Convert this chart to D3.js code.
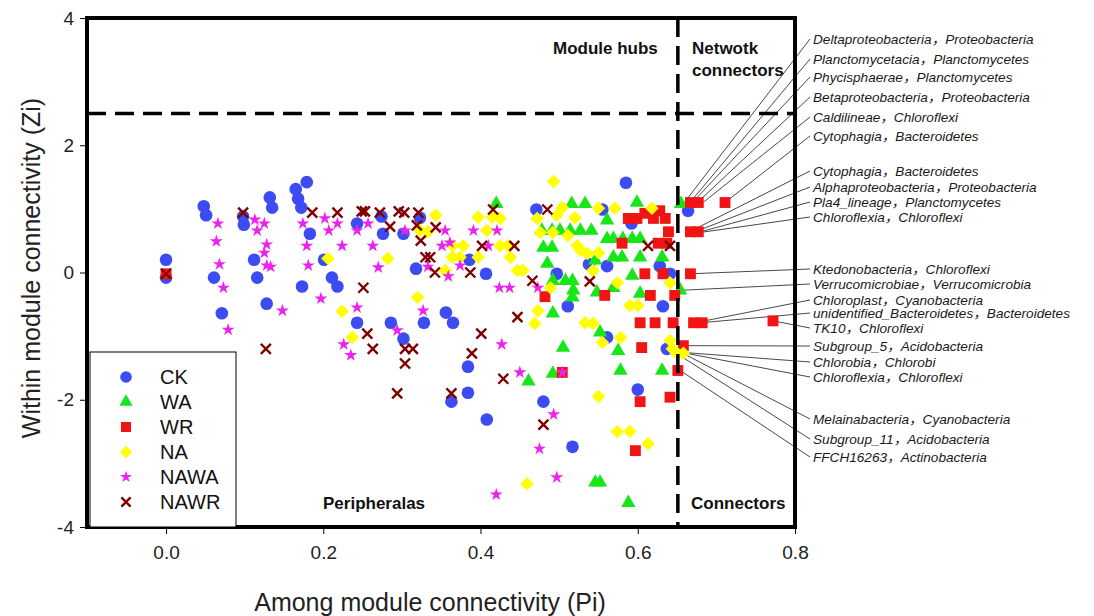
<!DOCTYPE html>
<html>
<head>
<meta charset="utf-8">
<script src="https://cdn.jsdelivr.net/npm/d3@7"></script>
<style>
body { margin: 0; background: #fff; }
text { font-family: "Liberation Sans", Arial, "Noto Sans CJK SC", sans-serif; }
</style>
</head>
<body>
<div id="chart"></div>
<script>
// values, [Pi, Zi]
var groups = ['CK', 'WA', 'WR', 'NA', 'NAWA', 'NAWR'];

var ck = [[0,0.2],[0,-0.08],[0.048,1.04],[0.051,0.9],[0.061,-0.08],[0.071,-0.64],[0.098,0.88],[0.099,0.75],
  [0.112,0.2],[0.116,-0.08],[0.132,1.18],[0.135,1.02],[0.128,-0.49],[0.179,1.42],[0.165,1.31],[0.168,1.16],
  [0.172,1.02],[0.183,0.61],[0.173,-0.22],[0.211,-0.08],[0.218,-0.22],[0.201,0.2],[0.243,0.77],[0.274,0.88],
  [0.276,0.61],[0.302,0.61],[0.318,0.06],[0.243,-0.79],[0.286,-0.79],[0.328,-0.79],[0.302,-1.04],[0.323,0.86],
  [0.384,-1.48],[0.384,-1.89],[0.363,-2.03],[0.408,-2.31],[0.48,-2.03],[0.517,-2.74],[0.6,-1.84],[0.471,0.99],
  [0.386,0.2],[0.407,-0.02],[0.356,-0.63],[0.365,-0.79],[0.497,-0.02],[0.511,-0.53],[0.538,0.13],[0.585,1.41],
  [0.555,0.99],[0.592,0.77],[0.561,0.1],[0.628,0.1],[0.641,-0.02],[0.632,-0.53],[0.561,-1.02],[0.637,-1.2],
  [0.664,0.97]];

var wa = [[0.42,1.08],[0.516,1.08],[0.533,1.08],[0.599,1.1],[0.655,1.08],[0.478,0.66],[0.491,0.66],[0.501,0.66],
  [0.514,0.66],[0.527,0.66],[0.541,0.66],[0.48,0.39],[0.491,0.39],[0.561,0.82],[0.561,0.53],[0.569,0.53],
  [0.581,0.53],[0.593,0.53],[0.603,0.53],[0.485,0.14],[0.546,0.19],[0.569,0.24],[0.58,0.24],[0.603,0.24],
  [0.631,0.24],[0.492,-0.13],[0.508,-0.13],[0.517,-0.13],[0.593,-0.05],[0.518,-0.28],[0.548,-0.31],[0.569,-0.24],
  [0.603,-0.33],[0.654,-0.28],[0.517,-0.39],[0.492,-0.64],[0.552,-0.94],[0.505,-1.18],[0.575,-1.23],[0.492,-1.59],
  [0.461,-1.71],[0.578,-1.54],[0.631,-1.54],[0.546,-3.3],[0.552,-3.3],[0.588,-3.62]];

var wr = [[0,-0.02],[0.482,-0.38],[0.504,-1.57],[0.588,0.85],[0.599,0.85],[0.609,0.93],[0.62,0.85],[0.628,0.97],
  [0.635,0.85],[0.639,0.64],[0.58,0.46],[0.626,0.46],[0.637,0.46],[0.667,1.1],[0.677,1.1],[0.711,1.1],
  [0.667,0.64],[0.677,0.64],[0.609,-0.02],[0.632,-0.02],[0.667,-0.02],[0.558,-0.36],[0.616,-0.36],[0.647,-0.36],
  [0.603,-0.79],[0.622,-0.79],[0.645,-0.79],[0.671,-0.79],[0.682,-0.79],[0.772,-0.76],[0.605,-1.18],[0.658,-1.15],
  [0.651,-1.54],[0.641,-1.96],[0.603,-2.03],[0.597,-2.8]];

var na = [[0.206,0.22],[0.282,0.22],[0.32,-0.39],[0.224,-0.61],[0.237,-1.02],[0.323,0.66],[0.333,0.64],[0.493,1.43],
  [0.343,0.9],[0.397,0.87],[0.408,0.66],[0.415,0.87],[0.425,0.85],[0.425,0.42],[0.435,0.42],[0.378,0.42],
  [0.365,0.42],[0.364,0.24],[0.374,0.24],[0.397,0.24],[0.438,0.24],[0.447,0.03],[0.454,0.03],[0.355,0.03],
  [0.472,0.85],[0.497,0.9],[0.492,0.63],[0.511,0.58],[0.476,0.63],[0.523,0.42],[0.527,0.35],[0.536,0.3],
  [0.489,-0.24],[0.473,-0.6],[0.469,-0.8],[0.533,-0.79],[0.543,-0.8],[0.504,1.02],[0.52,0.86],[0.55,1.01],
  [0.571,1.01],[0.618,1.01],[0.55,0.31],[0.543,0.03],[0.574,-0.16],[0.59,-0.52],[0.6,-0.52],[0.641,-0.16],
  [0.555,-1.1],[0.578,-1.02],[0.641,-1.07],[0.65,-1.27],[0.658,-1.27],[0.55,-1.95],[0.574,-2.5],[0.59,-2.5],
  [0.613,-2.69],[0.644,-1.2],[0.459,-3.32]];

var nawa = [[0.066,0.77],[0.064,0.49],[0.068,0.13],[0.073,-0.24],[0.079,-0.9],[0.113,0.83],[0.116,0.66],[0.125,0.77],
  [0.128,0.44],[0.125,0.31],[0.128,0.11],[0.133,0.09],[0.148,-0.6],[0.174,0.77],[0.179,0.42],[0.181,0.11],
  [0.202,0.85],[0.207,0.66],[0.218,0.77],[0.224,0.42],[0.197,-0.41],[0.243,0.66],[0.257,0.77],[0.263,0.42],
  [0.27,0.08],[0.243,-0.55],[0.226,-1.13],[0.235,-1.3],[0.294,-0.91],[0.304,0.66],[0.327,-0.6],[0.355,0.66],
  [0.351,0.42],[0.361,0.47],[0.391,0.66],[0.421,0.66],[0.41,0.42],[0.333,0.09],[0.359,-0.06],[0.374,0.11],
  [0.424,-0.24],[0.437,-0.24],[0.473,-0.24],[0.427,-1.13],[0.45,-1.57],[0.493,-2.23],[0.475,-2.77],[0.497,-3.22],
  [0.42,-3.49],[0.504,-1.57]];

var nawr = [[0,-0.02],[0.098,0.94],[0.186,0.94],[0.218,0.94],[0.249,0.96],[0.253,0.96],[0.272,0.94],[0.296,0.96],
  [0.303,0.94],[0.321,0.94],[0.285,0.72],[0.319,0.74],[0.324,0.5],[0.33,0.24],[0.336,0.24],[0.251,-0.24],
  [0.256,-0.96],[0.263,-1.2],[0.304,-1.2],[0.314,-1.2],[0.127,-1.2],[0.343,0.71],[0.342,0],[0.387,0],
  [0.402,0.42],[0.416,0.99],[0.443,0.42],[0.485,0.99],[0.466,-0.13],[0.447,-0.7],[0.401,-0.96],[0.389,-1.27],
  [0.613,0.42],[0.641,0.42],[0.539,-0.14],[0.304,-1.43],[0.294,-1.9],[0.363,-1.9],[0.429,-1.67],[0.48,-2.39]];

var xTicks = [0, 0.2, 0.4, 0.6, 0.8];
var yTicks = [-4, -2, 0, 2, 4];
var piCut = 0.651, ziCut = 2.5;

// annotated nodes: name and the node [Pi, Zi] the leader line points at
var taxa = ['Deltaproteobacteria，Proteobacteria', 'Planctomycetacia，Planctomycetes', 'Phycisphaerae，Planctomycetes',
  'Betaproteobacteria，Proteobacteria', 'Caldilineae，Chloroflexi', 'Cytophagia，Bacteroidetes',
  'Cytophagia，Bacteroidetes', 'Alphaproteobacteria，Proteobacteria', 'Pla4_lineage，Planctomycetes',
  'Chloroflexia，Chloroflexi', 'Ktedonobacteria，Chloroflexi', 'Verrucomicrobiae，Verrucomicrobia',
  'Chloroplast，Cyanobacteria', 'unidentified_Bacteroidetes，Bacteroidetes', 'TK10，Chloroflexi',
  'Subgroup_5，Acidobacteria', 'Chlorobia，Chlorobi', 'Chloroflexia，Chloroflexi',
  'Melainabacteria，Cyanobacteria', 'Subgroup_11，Acidobacteria', 'FFCH16263，Actinobacteria'];
var taxaNode = [[0.658,1.08],[0.663,1.05],[0.668,1.08],[0.674,1.08],[0.681,1.08],[0.711,1.1],
  [0.669,0.66],[0.673,0.64],[0.677,0.63],[0.68,0.63],[0.667,-0.02],[0.654,-0.28],
  [0.673,-0.79],[0.68,-0.79],[0.772,-0.76],[0.658,-1.15],[0.662,-1.26],[0.662,-1.27],
  [0.662,-1.3],[0.658,-1.34],[0.654,-1.54]];
// label rows (px)
var labelY = [39, 59, 77, 97, 117, 136, 171, 187, 202, 217, 269, 284, 300, 313, 328, 346, 362, 377, 419, 439, 457];

function draw() {
  var width = 1094, height = 616;
  var pLeft = 87, pRight = 795, pTop = 18, pBottom = 527;

  var svg = d3.select('#chart').append('svg')
    .attr('width', width)
    .attr('height', height);

  var x = d3.scaleLinear().domain([-0.1, 0.8]).range([pLeft + 0.4, pRight]);
  var y = d3.scaleLinear().domain([-4, 4]).range([pBottom, pTop]);

  var colors = d3.scaleOrdinal()
    .domain(groups)
    .range(['#3c4cf2', '#19e619', '#f01414', '#ffff00', '#ee22ee', '#800000']);

  var crossPath = function(r) {
    return 'M' + -r + ',' + -r + 'L' + r + ',' + r + 'M' + r + ',' + -r + 'L' + -r + ',' + r;
  };

  function marker(sel, g, scale) {
    var p;
    if (g === 'CK') p = d3.symbol(d3.symbolCircle, 125 * scale)();
    else if (g === 'WA') p = d3.symbol(d3.symbolTriangle, 90 * scale)();
    else if (g === 'WR') p = d3.symbol(d3.symbolSquare, 118 * scale)();
    else if (g === 'NA') p = d3.symbol(d3.symbolSquare, 92 * scale)();
    else if (g === 'NAWA') p = d3.symbol(d3.symbolStar, 52 * scale)();
    else p = crossPath(5 * Math.sqrt(scale));
    sel.attr('d', p);
    if (g === 'NAWR') {
      sel.attr('fill', 'none').attr('stroke', colors(g)).attr('stroke-width', 2.4);
    } else {
      sel.attr('fill', colors(g)).attr('stroke', 'none');
    }
    return sel;
  }

  var series = [ck, wa, wr, na, nawa, nawr];

  // leader lines
  svg.append('g').selectAll('line').data(taxa)
    .enter().append('line')
    .attr('x1', function(d, i) { return x(taxaNode[i][0]); })
    .attr('y1', function(d, i) { return y(taxaNode[i][1]); })
    .attr('x2', 810)
    .attr('y2', function(d, i) { return labelY[i]; })
    .attr('stroke', '#333')
    .attr('stroke-width', 0.9);

  // points
  series.forEach(function(data, k) {
    var g = groups[k];
    svg.append('g').selectAll('path').data(data)
      .enter().append('path')
      .each(function() { marker(d3.select(this), g, 1); })
      .attr('transform', function(d) {
        return 'translate(' + x(d[0]) + ',' + y(d[1]) + ')' + (g === 'NA' ? ' rotate(45)' : '');
      });
  });

  // cut-off lines
  svg.append('line')
    .attr('x1', pLeft).attr('x2', pRight)
    .attr('y1', y(ziCut)).attr('y2', y(ziCut))
    .attr('stroke', '#000').attr('stroke-width', 3.5)
    .attr('stroke-dasharray', '19,9');
  svg.append('line')
    .attr('x1', x(piCut)).attr('x2', x(piCut))
    .attr('y1', pTop).attr('y2', pBottom)
    .attr('stroke', '#000').attr('stroke-width', 3.5)
    .attr('stroke-dasharray', '19,9');

  // axes
  var xAxis = d3.axisBottom(x).tickValues(xTicks).tickSize(7).tickSizeOuter(0).tickFormat(d3.format('.1f'));
  var yAxis = d3.axisLeft(y).tickValues(yTicks).tickSize(7).tickSizeOuter(0).tickFormat(function(d) { return String(d); });

  var xg = svg.append('g').attr('transform', 'translate(0,' + pBottom + ')').call(xAxis);
  var yg = svg.append('g').attr('transform', 'translate(' + pLeft + ',0)').call(yAxis);
  [xg, yg].forEach(function(a) {
    a.select('.domain').remove();
    a.selectAll('line').attr('stroke', '#000');
    a.selectAll('text').attr('fill', '#222').style('font-size', '19px')
      .style('font-family', '"Liberation Sans", Arial, sans-serif');
  });
  xg.selectAll('text').attr('dy', '1.15em');
  yg.selectAll('text').attr('x', -13);

  // frame
  svg.append('rect')
    .attr('x', pLeft).attr('y', pTop)
    .attr('width', pRight - pLeft).attr('height', pBottom - pTop)
    .attr('fill', 'none').attr('stroke', '#000').attr('stroke-width', 4);

  // region labels
  var region = svg.append('g').style('font-weight', 'bold').style('font-size', '17px').attr('fill', '#111');
  region.append('text').attr('x', 553).attr('y', 54).text('Module hubs');
  region.append('text').attr('x', 692).attr('y', 54).text('Netwotk');
  region.append('text').attr('x', 692).attr('y', 76).text('connectors');
  region.append('text').attr('x', 323).attr('y', 509).text('Peripheralas');
  region.append('text').attr('x', 691).attr('y', 509).text('Connectors');

  // taxa labels
  svg.append('g').selectAll('text').data(taxa)
    .enter().append('text')
    .attr('x', 813)
    .attr('y', function(d, i) { return labelY[i]; })
    .attr('dy', '0.36em')
    .style('font-size', '13.6px')
    .style('font-style', 'italic')
    .attr('fill', '#1a1a1a')
    .text(function(d) { return d; });

  // legend
  var legend = svg.append('g');
  legend.append('rect')
    .attr('x', 90).attr('y', 352)
    .attr('width', 146).attr('height', pBottom - 352)
    .attr('fill', '#fff').attr('stroke', '#000').attr('stroke-width', 1);
  var rows = legend.selectAll('g.row').data(groups)
    .enter().append('g')
    .attr('transform', function(d, i) { return 'translate(126,' + (377 + i * 25) + ')'; });
  rows.append('path')
    .each(function(d) { marker(d3.select(this), d, 0.85); })
    .attr('transform', function(d) { return d === 'NA' ? 'rotate(45)' : null; });
  rows.append('text')
    .attr('x', 34).attr('dy', '0.36em')
    .style('font-size', '20px')
    .attr('fill', '#111')
    .text(function(d) { return d; });

  // axis titles
  svg.append('text')
    .attr('x', 430).attr('y', 611)
    .attr('text-anchor', 'middle')
    .style('font-size', '25px')
    .attr('fill', '#222')
    .text('Among module connectivity (Pi)');
  svg.append('text')
    .attr('transform', 'translate(40,268) rotate(-90)')
    .attr('text-anchor', 'middle')
    .style('font-size', '25px')
    .attr('fill', '#222')
    .text('Within module connectivity (Zi)');
}

draw();
</script>
</body>
</html>
